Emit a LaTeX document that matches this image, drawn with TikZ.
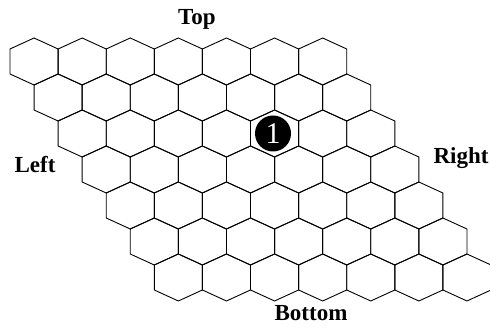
\documentclass[tikz,border=0pt]{standalone}
\usepackage{fontspec}
\setmainfont{Liberation Serif}

\begin{document}
\begin{tikzpicture}[x=1pt, y=1pt, line width=0.9pt,
  hexcell/.style={draw=black, line join=miter},
  side/.style={anchor=base, font=\fontsize{23}{23}\selectfont\bfseries},
  stone/.style={circle, fill=black, text=white, minimum size=36pt, inner sep=0pt,
    font=\fontsize{30}{30}\selectfont}]

  \useasboundingbox (0,0) rectangle (490,328);

  % 7x7 board, rows shifted half a cell to the right
  \foreach \r in {0,...,6}
    \foreach \c in {0,...,6}
      \draw[hexcell, shift={({34.05+48.1*\c+24.05*\r},{266.5-36*\r})}]
        (0,23.5) -- (24.05,12.5) -- (24.05,-12.5) -- (0,-23.5)
        -- (-24.05,-12.5) -- (-24.05,12.5) -- cycle;

  \node[stone] (S1) at (273,194.5) {1};

  \node[side] (top)    at (197,303)   {Top};
  \node[side] (left)   at (35,155.7)  {Left};
  \node[side] (right)  at (461,164.7) {Right};
  \node[side] (bottom) at (311,7)     {Bottom};

\end{tikzpicture}
\end{document}
